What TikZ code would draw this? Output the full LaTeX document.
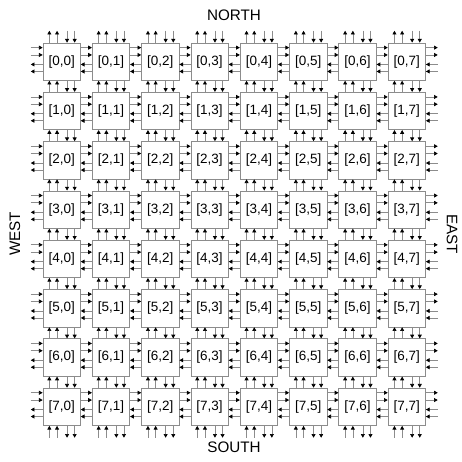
\documentclass[tikz,border=0pt]{standalone}
\usepackage{fontspec}
\setmainfont{Liberation Sans}
\usetikzlibrary{arrows.meta,calc}
\tikzset{
  pe/.style={rectangle,draw=black!45,fill=white,minimum size=1.122cm,inner sep=0pt,line width=.6pt,font=\fontsize{11.5}{13}\selectfont},
  lnk/.style={draw=black!45,line width=.6pt,-{Triangle[length=3.2pt,width=3.4pt,color=black]}},
  dir/.style={font=\fontsize{13}{15}\selectfont},
}
\newcommand\lgap{0.357}

\begin{document}
\begin{tikzpicture}
\useasboundingbox (0,0) rectangle (13.86,13.86);
% ---------- processing elements ----------
\foreach \r in {0,...,7}
  \foreach \c in {0,...,7}
    \node[pe] (p\r\c) at ({1.851+1.479*\c},{12.009-1.479*\r}) {[\r,\c]};
% ---------- links between rows ----------
\foreach \r [count=\s] in {0,...,6}
  \foreach \c in {0,...,7}{
    \foreach \d in {0.201,0.432}
      \draw[lnk] ($(p\s\c.north west)+(\d,0)$) -- ($(p\r\c.south west)+(\d,0)$);
    \foreach \d in {0.732,0.960}
      \draw[lnk] ($(p\r\c.south west)+(\d,0)$) -- ($(p\s\c.north west)+(\d,0)$);
  }
% ---------- links between columns ----------
\foreach \c [count=\e] in {0,...,6}
  \foreach \r in {0,...,7}{
    \foreach \d in {0.150,0.369}
      \draw[lnk] ($(p\r\c.north east)+(0,-\d)$) -- ($(p\r\e.north west)+(0,-\d)$);
    \foreach \d in {0.654,0.864}
      \draw[lnk] ($(p\r\e.north west)+(0,-\d)$) -- ($(p\r\c.north east)+(0,-\d)$);
  }
% ---------- border links ----------
\foreach \c in {0,...,7}{
  \foreach \d in {0.201,0.432}{
    \draw[lnk] ($(p0\c.north west)+(\d,0)$) -- ++(0,\lgap);
    \draw[lnk] ($(p7\c.south west)+(\d,-\lgap)$) -- ++(0,\lgap);
  }
  \foreach \d in {0.732,0.960}{
    \draw[lnk] ($(p0\c.north west)+(\d,\lgap)$) -- ++(0,-\lgap);
    \draw[lnk] ($(p7\c.south west)+(\d,0)$) -- ++(0,-\lgap);
  }
}
\foreach \r in {0,...,7}{
  \foreach \d in {0.150,0.369}{
    \draw[lnk] ($(p\r0.north west)+(-\lgap,-\d)$) -- ++(\lgap,0);
    \draw[lnk] ($(p\r7.north east)+(0,-\d)$) -- ++(\lgap,0);
  }
  \foreach \d in {0.654,0.864}{
    \draw[lnk] ($(p\r0.north west)+(0,-\d)$) -- ++(-\lgap,0);
    \draw[lnk] ($(p\r7.north east)+(\lgap,-\d)$) -- ++(-\lgap,0);
  }
}
% ---------- compass labels ----------
\node[dir] (north) at (7.02,13.41) {NORTH};
\node[dir] (south) at (7.02,0.45) {SOUTH};
\node[dir,rotate=90] (west) at (0.45,6.84) {WEST};
\node[dir,rotate=-90] (east) at (13.56,6.84) {EAST};
\end{tikzpicture}
\end{document}
